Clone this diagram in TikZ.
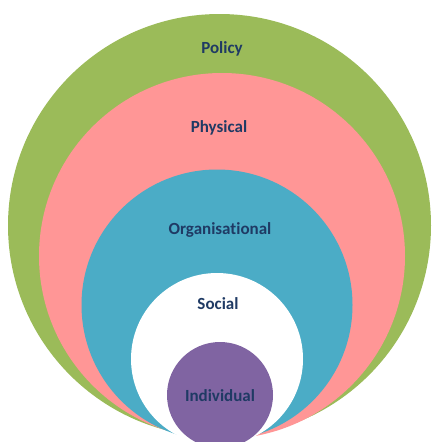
\documentclass[tikz,border=0pt]{standalone}
\usepackage{fontspec}
\setmainfont{Carlito}[Ligatures=NoCommon]
\definecolor{cgreen}{HTML}{9BBB59}
\definecolor{cpink}{HTML}{FF9696}
\definecolor{cblue}{HTML}{4BACC6}
\definecolor{cpurple}{HTML}{8064A2}
\definecolor{ctext}{HTML}{1F3A64}
\begin{document}
\begin{tikzpicture}[x=1pt,y=-1pt,
  ring/.style={circle,inner sep=0pt,draw=none},
  lbl/.style={font=\fontsize{17}{19}\selectfont\bfseries,text=ctext,inner sep=0pt}]
\useasboundingbox (0,0) rectangle (433,442);
\clip (0,0) rectangle (433,442);
\node[ring,fill=cgreen,minimum size=423pt] (policy) at (219.5,225.5) {};
\node[ring,fill=cpink,minimum size=366pt] (physical) at (222,256) {};
\node[ring,fill=cblue,minimum size=271pt] (org) at (217,305) {};
\node[ring,fill=white,minimum size=172pt] (social) at (217,359) {};
\node[ring,fill=cpurple,minimum size=106pt] (indiv) at (220,395) {};
\node[lbl] (tpolicy) at (222,49) {Policy};
\node[lbl] (tphysical) at (219,128) {Physical};
\node[lbl] (torg) at (220,230) {Organisational};
\node[lbl] (tsocial) at (218,304) {Social};
\node[lbl] (tindiv) at (220,396) {Individual};
\end{tikzpicture}
\end{document}
